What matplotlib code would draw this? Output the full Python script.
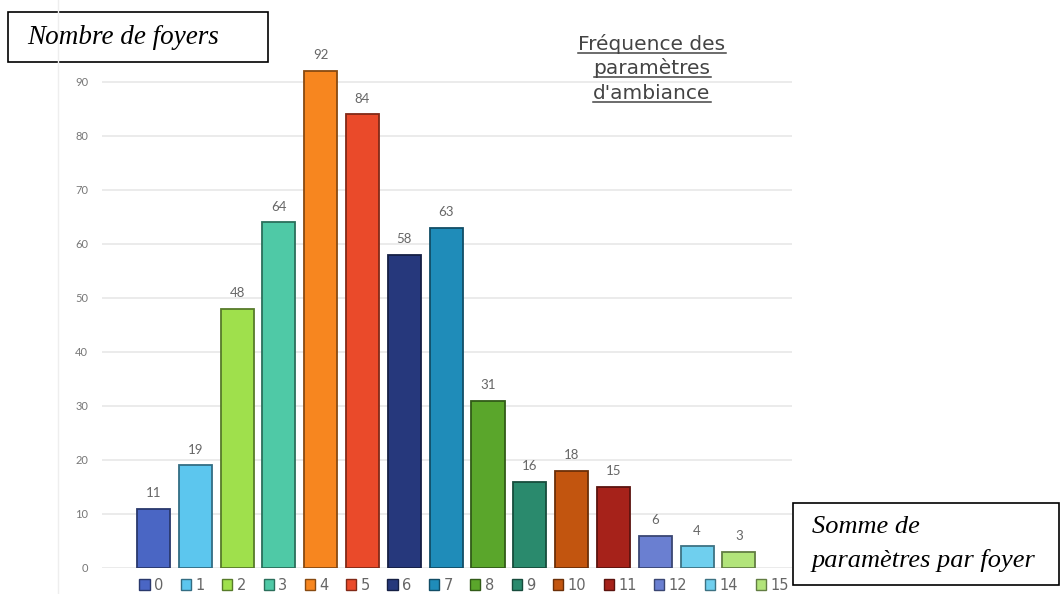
import numpy as np
import matplotlib.pyplot as plt
import matplotlib.colors as mcolors
from matplotlib.lines import Line2D
from matplotlib.patches import Rectangle, Patch

# data
categories = ['0', '1', '2', '3', '4', '5', '6', '7', '8', '9', '10', '11', '12', '14', '15']
counts = [11, 19, 48, 64, 92, 84, 58, 63, 31, 16, 18, 15, 6, 4, 3]
colors = ['#4a66c4', '#5cc6ee', '#9fe04c', '#4fc9a6', '#f7861f', '#ea4a2a',
          '#26387c', '#1f8cb9', '#5aa62b', '#2a8a6d', '#c2550f', '#a6221a',
          '#6a7fd1', '#6fcfee', '#b2e47a']
yticks = [0, 10, 20, 30, 40, 50, 60, 70, 80, 90]

W, H = 1062, 594
fig = plt.figure(figsize=(W / 100, H / 100), dpi=100)
fig.patch.set_facecolor('white')

# axes placed in pixel terms
x0, x1 = 102, 792
y0, y1 = 568, 28
ax = fig.add_axes([x0 / W, (H - y0) / H, (x1 - x0) / W, (y0 - y1) / H])

edge = [tuple(np.array(mcolors.to_rgb(c)) * 0.55) for c in colors]
xs = np.arange(len(categories))
ax.bar(xs, counts, width=0.79, color=colors, edgecolor=edge, linewidth=1.3, zorder=3)

for x, v in zip(xs, counts):
    ax.text(x, v + 1.8, str(v), ha='center', va='bottom', fontsize=9.5,
            color='#666666', family='Lato')

ax.set_xlim(-1.23, 15.27)
ax.set_ylim(0, 100)
ax.set_yticks(yticks)
ax.set_yticklabels([str(t) for t in yticks], fontsize=8, color='#777777', family='Lato')
ax.tick_params(axis='y', length=0, pad=10)
ax.set_xticks([])
ax.grid(axis='y', color='#e8e8e8', linewidth=1.2, zorder=0)
for s in ax.spines.values():
    s.set_visible(False)

# faint frame line on the left of the original chart
fig.add_artist(Line2D([58 / W, 58 / W], [0, 1], color='#eeeeee', linewidth=1))

# legend
handles = [Patch(facecolor=c, edgecolor=e, linewidth=1) for c, e in zip(colors, edge)]
fig.legend(handles, categories, loc='center', bbox_to_anchor=(464 / W, 1 - 585 / H),
           ncol=len(categories), frameon=False, handlelength=0.7,
           handleheight=0.7, handletextpad=0.3, columnspacing=1.2,
           labelcolor='#666666', prop={'family': 'DejaVu Sans', 'size': 10.5})

# title, underlined
title_lines = ['Fréquence des', 'paramètres', "d'ambiance"]
title_y = [50, 74, 99]
tts = []
for t, yy in zip(title_lines, title_y):
    tts.append(fig.text(652 / W, 1 - yy / H, t, ha='center', va='baseline', fontsize=14.5,
                        color='#444444', family='DejaVu Sans'))

# annotation boxes
fig.add_artist(Rectangle((8 / W, 1 - 62 / H), 260 / W, 50 / H, transform=fig.transFigure,
                         facecolor='white', edgecolor='black', linewidth=1.2))
fig.text(27 / W, 1 - 37 / H, 'Nombre de foyers', ha='left', va='center', fontsize=19.5,
         style='italic', family='Liberation Serif', color='black')

fig.add_artist(Rectangle((793 / W, 1 - 585 / H), 266 / W, 82 / H, transform=fig.transFigure,
                         facecolor='white', edgecolor='black', linewidth=1.2))
fig.text(812 / W, 1 - 527 / H, 'Somme de', ha='left', va='center', fontsize=19,
         style='italic', family='Liberation Serif', color='black')
fig.text(812 / W, 1 - 561 / H, 'paramètres par foyer', ha='left', va='center', fontsize=19,
         style='italic', family='Liberation Serif', color='black')

# underline each title line, just under the baseline
fig.canvas.draw()
r = fig.canvas.get_renderer()
for t, yy in zip(tts, title_y):
    bb = t.get_window_extent(r)
    yl = (H - yy - 3) / H
    fig.add_artist(Line2D([bb.x0 / W, bb.x1 / W], [yl, yl], color='#444444', linewidth=1.1))

fig.savefig('out.png', dpi=100)
